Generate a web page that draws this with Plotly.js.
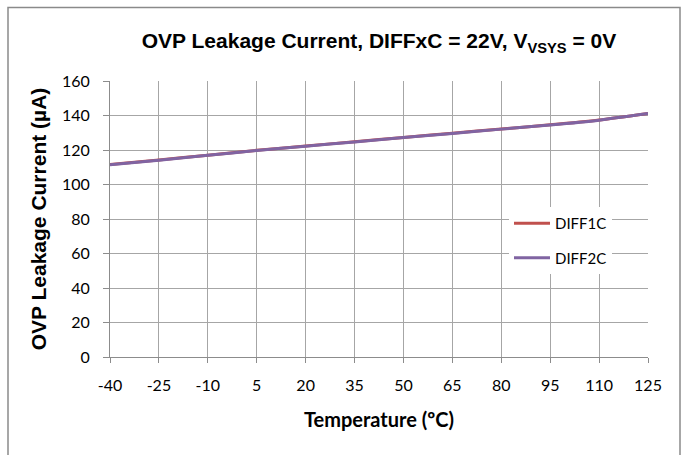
<!DOCTYPE html>
<html><head><meta charset="utf-8">
<script src="https://cdn.plot.ly/plotly-3.0.1.min.js"></script>
<style>html,body{margin:0;padding:0;background:#fff;}#chart{width:688px;height:455px;}</style>
</head><body><div id="chart"></div>
<script>
const temperature = [-40, -25, -10, 5, 20, 35, 50, 65, 80, 95, 110, 125];
const diff1c = [111.6, 114.2, 117.0, 119.8, 122.3, 124.8, 127.3, 129.7, 132.2, 134.6, 137.4, 141.2];
const diff2c = [111.4, 114.1, 116.9, 119.7, 122.2, 124.7, 127.2, 129.6, 132.1, 134.5, 137.3, 141.1];
const xTicks = [-40, -25, -10, 5, 20, 35, 50, 65, 80, 95, 110, 125];
const yTicks = [0, 20, 40, 60, 80, 100, 120, 140, 160];

const traces = [
  {x: temperature, y: diff1c, name: 'DIFF1C', mode: 'lines', type: 'scatter',
   line: {color: '#c0504d', width: 3, shape: 'spline', smoothing: 0.6}, legendgroup: 'a'},
  {x: temperature, y: diff2c, name: 'DIFF2C', mode: 'lines', type: 'scatter',
   line: {color: '#8064a2', width: 3, shape: 'spline', smoothing: 0.6}, legendgroup: 'b'}
];

const tickFont = {family: 'Lato, "Open Sans", sans-serif', size: 16, color: '#000'};
const layout = {
  width: 688, height: 455,
  margin: {l: 110, r: 40, t: 81, b: 98, pad: 0},
  paper_bgcolor: '#fff', plot_bgcolor: '#fff',
  title: {
    text: 'OVP Leakage Current, DIFFxC = 22V, V<sub>VSYS</sub> = 0V',
    font: {family: '"Liberation Sans", Arial, sans-serif', size: 21, color: '#000', weight: 'bold'},
    x: 0.5, xref: 'paper', xanchor: 'center', y: 1 - 41/455, yanchor: 'middle'
  },
  xaxis: {
    range: [-40, 125], tickvals: xTicks, ticktext: xTicks.map(String),
    showgrid: true, gridcolor: '#a6a6a6', gridwidth: 1,
    showline: true, linecolor: '#8c8c8c', linewidth: 1,
    ticks: 'outside', ticklen: 5, tickcolor: '#8c8c8c', ticklabelstandoff: 9,
    zeroline: false, tickfont: tickFont, fixedrange: true,
    title: {text: 'Temperature (ºC)', standoff: 19,
      font: {family: 'Lato, "Open Sans", sans-serif', size: 20, color: '#000', weight: 'bold'}}
  },
  yaxis: {
    range: [0, 160], tickvals: yTicks, ticktext: yTicks.map(String),
    showgrid: true, gridcolor: '#a6a6a6', gridwidth: 1,
    showline: true, linecolor: '#8c8c8c', linewidth: 1,
    ticks: 'outside', ticklen: 6, tickcolor: '#8c8c8c', ticklabelstandoff: 10,
    zeroline: false, tickfont: tickFont, fixedrange: true,
    title: {text: 'OVP Leakage Current (µA)', standoff: 9,
      font: {family: '"Liberation Sans", Arial, sans-serif', size: 21, color: '#000', weight: 'bold'}}
  },
  legend: {
    x: (509 - 110) / 538, xanchor: 'left', y: (357 - 207) / 276, yanchor: 'top',
    bgcolor: '#fff', borderwidth: 0, tracegroupgap: 12, itemwidth: 36,
    font: {family: 'Lato, "Open Sans", sans-serif', size: 15, color: '#000'}
  },
  shapes: [{
    type: 'rect', xref: 'paper', yref: 'paper',
    x0: (8 - 110) / 538, x1: (680 - 110) / 538,
    y0: (357 - 470) / 276, y1: (357 - 7.5) / 276,
    line: {color: '#8a8a8a', width: 1.5}, fillcolor: 'rgba(0,0,0,0)', layer: 'below'
  }],
  showlegend: true
};
Plotly.newPlot('chart', traces, layout, {displayModeBar: false, staticPlot: true});
</script></body></html>
